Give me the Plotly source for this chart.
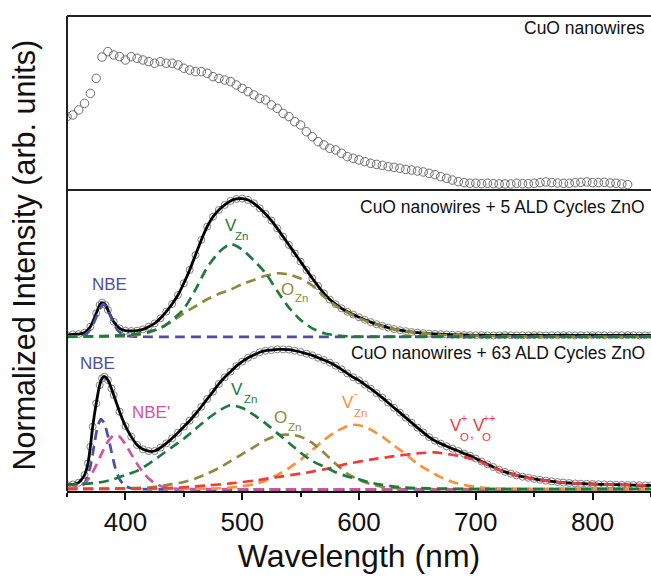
import plotly.graph_objects as go

# ---------------- data ----------------
# top panel: CuO nanowires
wl_top = list(range(350, 831, 5))
pl_top = [0.519, 0.531, 0.568, 0.617, 0.691, 0.802, 0.960, 1.000, 0.975, 0.963,
          0.938, 0.963, 0.951, 0.938, 0.926, 0.914, 0.926, 0.914, 0.914, 0.901,
          0.877, 0.864, 0.852, 0.852, 0.840, 0.815, 0.802, 0.790, 0.778, 0.753,
          0.728, 0.704, 0.679, 0.654, 0.642, 0.605, 0.580, 0.543, 0.519, 0.481,
          0.457, 0.407, 0.370, 0.333, 0.309, 0.284, 0.272, 0.247, 0.222, 0.210,
          0.198, 0.185, 0.173, 0.165, 0.158, 0.148, 0.143, 0.136, 0.128, 0.123,
          0.116, 0.109, 0.099, 0.089, 0.074, 0.062, 0.049, 0.037, 0.030, 0.025,
          0.025, 0.022, 0.025, 0.022, 0.020, 0.020, 0.020, 0.025, 0.022, 0.022,
          0.025, 0.030, 0.035, 0.030, 0.027, 0.025, 0.025, 0.030, 0.032, 0.035,
          0.030, 0.030, 0.032, 0.027, 0.025, 0.020, 0.015]

# middle panel: CuO nanowires + 5 ALD cycles ZnO
wl_mid = [350, 355, 360, 365, 370, 375, 378, 380, 383, 385, 390, 395] + list(range(400, 851, 5))
pl_mid = [0.012, 0.017, 0.019, 0.029, 0.072, 0.169, 0.229, 0.246, 0.229, 0.193, 0.108, 0.060,
          0.043, 0.041, 0.043, 0.053, 0.072, 0.096, 0.133, 0.181, 0.236, 0.301,
          0.386, 0.482, 0.590, 0.699, 0.795, 0.867, 0.916, 0.952, 0.981, 0.995,
          0.998, 0.988, 0.964, 0.928, 0.887, 0.839, 0.783, 0.723, 0.663, 0.602,
          0.542, 0.482, 0.422, 0.366, 0.313, 0.268, 0.235, 0.205, 0.180, 0.160,
          0.140, 0.122, 0.105, 0.090, 0.078, 0.066, 0.055, 0.047, 0.040, 0.034,
          0.029, 0.025, 0.022, 0.020, 0.018, 0.016, 0.014, 0.013, 0.012, 0.011,
          0.010, 0.011, 0.010, 0.009, 0.010, 0.011, 0.010, 0.009, 0.010, 0.010,
          0.011, 0.010, 0.009, 0.010, 0.010, 0.011, 0.010, 0.009, 0.010, 0.010,
          0.011, 0.010, 0.010, 0.009, 0.010, 0.010, 0.011, 0.010, 0.009, 0.010, 0.010]

nbe_mid_x = [350, 360, 365, 370, 373, 376, 378, 381, 384, 387, 390, 393, 396, 400, 405, 410, 850]
nbe_mid_y = [0, 0.002, 0.012, 0.05, 0.10, 0.16, 0.20, 0.235, 0.21, 0.155, 0.095, 0.05, 0.025, 0.008, 0.002, 0, 0]
vzn_mid_x = [350, 380, 400, 410, 420, 430, 440, 450, 460, 470, 480, 490, 500, 510, 520,
             530, 540, 550, 560, 570, 580, 590, 600, 620, 850]
vzn_mid_y = [0, 0.004, 0.012, 0.02, 0.035, 0.06, 0.12, 0.20, 0.34, 0.50, 0.61, 0.67, 0.63,
             0.55, 0.46, 0.33, 0.21, 0.12, 0.06, 0.025, 0.01, 0.003, 0, 0, 0]
ozn_mid_x = [350, 400, 410, 420, 430, 440, 450, 460, 470, 480, 490, 500, 510, 520, 530, 540,
             550, 560, 570, 580, 590, 600, 610, 620, 630, 640, 650, 670, 700, 750, 850]
ozn_mid_y = [0, 0.003, 0.012, 0.03, 0.065, 0.11, 0.17, 0.22, 0.27, 0.31, 0.34, 0.38, 0.41,
             0.44, 0.458, 0.45, 0.42, 0.37, 0.29, 0.225, 0.175, 0.135, 0.10, 0.075, 0.055,
             0.04, 0.028, 0.014, 0.006, 0.002, 0]

# bottom panel: CuO nanowires + 63 ALD cycles ZnO
wl_bot = [350, 355, 360, 365, 368, 370, 372, 375, 378, 380, 382, 385, 388, 390] + list(range(395, 851, 5))
pl_bot = [0.029, 0.033, 0.045, 0.100, 0.184, 0.303, 0.446, 0.613, 0.744, 0.792, 0.804, 0.780,
          0.720, 0.673,
          0.554, 0.451, 0.375, 0.315, 0.284, 0.272, 0.272, 0.296, 0.327, 0.363,
          0.403, 0.446, 0.489, 0.537, 0.589, 0.644, 0.697, 0.752, 0.800, 0.840,
          0.880, 0.912, 0.940, 0.959, 0.979, 0.990, 0.995, 1.000, 1.000, 0.998,
          0.990, 0.981, 0.969, 0.957, 0.940, 0.924, 0.905, 0.883, 0.857, 0.828,
          0.800, 0.778, 0.748, 0.718, 0.686, 0.654, 0.618, 0.582, 0.547, 0.511,
          0.475, 0.439, 0.405, 0.372, 0.346, 0.325, 0.306, 0.289, 0.272, 0.253,
          0.239, 0.218, 0.197, 0.177, 0.157, 0.138, 0.123, 0.110, 0.098, 0.088,
          0.080, 0.072, 0.066, 0.060, 0.055, 0.050, 0.046, 0.043, 0.040, 0.038,
          0.037, 0.036, 0.034, 0.033, 0.032, 0.031, 0.030, 0.029, 0.028, 0.027,
          0.026, 0.026]

nbe_bot_x = [350, 360, 365, 370, 373, 376, 379, 382, 385, 388, 391, 395, 400, 405, 410, 850]
nbe_bot_y = [0, 0.01, 0.04, 0.16, 0.30, 0.44, 0.50, 0.47, 0.38, 0.27, 0.16, 0.07, 0.02, 0.005, 0, 0]
nbe2_bot_x = [350, 360, 365, 370, 375, 380, 385, 390, 395, 400, 405, 410, 415, 420, 425,
              430, 435, 440, 450, 850]
nbe2_bot_y = [0, 0.02, 0.04, 0.09, 0.17, 0.26, 0.34, 0.385, 0.375, 0.32, 0.25, 0.18, 0.12,
              0.075, 0.042, 0.022, 0.01, 0.004, 0, 0]
vzn_bot_x = [350, 360, 370, 380, 390, 400, 410, 420, 430, 440, 450, 460, 470, 480, 490, 500,
             510, 520, 530, 540, 550, 560, 570, 580, 590, 600, 610, 620, 630, 640, 660, 680,
             700, 850]
vzn_bot_y = [0.03, 0.035, 0.04, 0.05, 0.07, 0.10, 0.13, 0.18, 0.24, 0.30, 0.36, 0.43, 0.50,
             0.56, 0.60, 0.58, 0.53, 0.47, 0.40, 0.33, 0.26, 0.20, 0.16, 0.12, 0.09, 0.07,
             0.045, 0.03, 0.017, 0.01, 0.004, 0.002, 0, 0]
ozn_bot_x = [350, 420, 430, 440, 450, 460, 470, 480, 490, 500, 510, 520, 530, 537, 545, 550,
             560, 570, 580, 590, 600, 610, 620, 630, 640, 660, 850]
ozn_bot_y = [0, 0.01, 0.02, 0.035, 0.05, 0.075, 0.11, 0.15, 0.20, 0.25, 0.30, 0.35, 0.385,
             0.39, 0.385, 0.375, 0.33, 0.26, 0.18, 0.11, 0.065, 0.035, 0.016, 0.008, 0.004, 0, 0]
vznm_bot_x = [350, 480, 500, 510, 520, 530, 540, 550, 560, 570, 580, 590, 597, 605, 610, 620,
              630, 640, 650, 660, 670, 680, 690, 700, 710, 720, 740, 850]
vznm_bot_y = [0, 0.005, 0.02, 0.035, 0.06, 0.10, 0.15, 0.21, 0.28, 0.35, 0.41, 0.45, 0.46,
              0.445, 0.425, 0.375, 0.31, 0.25, 0.18, 0.13, 0.085, 0.05, 0.03, 0.015, 0.007,
              0.003, 0, 0]
vo_bot_x = [350, 430, 450, 470, 490, 510, 530, 550, 570, 590, 610, 630, 650, 665, 680, 690,
            700, 710, 720, 730, 740, 750, 760, 770, 780, 790, 800, 820, 840, 850]
vo_bot_y = [0, 0.005, 0.012, 0.025, 0.04, 0.06, 0.085, 0.11, 0.14, 0.18, 0.21, 0.235, 0.255,
            0.262, 0.245, 0.228, 0.208, 0.172, 0.136, 0.108, 0.087, 0.071, 0.06, 0.05, 0.043,
            0.038, 0.035, 0.031, 0.027, 0.026]

# ---------------- styling ----------------
FONT = "Liberation Sans, Arial, Helvetica, sans-serif"
C_NBE = "#4f4f9f"
C_VZN = "#1c7a3c"
C_OZN = "#8c8a3c"
C_NBE2 = "#d353a3"
C_VZNM = "#f7923f"
C_VO = "#ef3b3b"

H_TOP = (0.6337, 1.0)
H_MID = (0.3179, 0.6337)
H_BOT = (0.0, 0.3179)

fig = go.Figure()


def data_trace(x, y, ax, size, color):
    fig.add_trace(go.Scatter(x=x, y=y, yaxis=ax, mode="markers",
                             marker=dict(symbol="circle-open", size=size, color=color,
                                         line=dict(width=1, color=color)),
                             showlegend=False, hoverinfo="skip"))


def fit_trace(x, y, ax):
    fig.add_trace(go.Scatter(x=x, y=y, yaxis=ax, mode="lines",
                             line=dict(color="#000000", width=2.8, shape="spline", smoothing=0.6),
                             showlegend=False, hoverinfo="skip"))


def comp_trace(x, y, ax, color):
    fig.add_trace(go.Scatter(x=x, y=y, yaxis=ax, mode="lines",
                             line=dict(color=color, width=2.7, dash="10px,6px",
                                       shape="spline", smoothing=0.6),
                             showlegend=False, hoverinfo="skip"))


# top
data_trace(wl_top, pl_top, "y", 8.5, "#6b6b6b")
# middle
data_trace(wl_mid, pl_mid, "y2", 7, "#808080")
fit_trace(wl_mid, pl_mid, "y2")
comp_trace(nbe_mid_x, nbe_mid_y, "y2", C_NBE)
comp_trace(ozn_mid_x, ozn_mid_y, "y2", C_OZN)
comp_trace(vzn_mid_x, vzn_mid_y, "y2", C_VZN)
# bottom
data_trace(wl_bot, pl_bot, "y3", 7, "#808080")
fit_trace(wl_bot, pl_bot, "y3")
comp_trace(nbe_bot_x, nbe_bot_y, "y3", C_NBE)
comp_trace(nbe2_bot_x, nbe2_bot_y, "y3", C_NBE2)
comp_trace(vznm_bot_x, vznm_bot_y, "y3", C_VZNM)
comp_trace(ozn_bot_x, ozn_bot_y, "y3", C_OZN)
comp_trace(vo_bot_x, vo_bot_y, "y3", C_VO)
comp_trace(vzn_bot_x, vzn_bot_y, "y3", C_VZN)

hidden_y = dict(showticklabels=False, ticks="", showgrid=False, zeroline=False,
                showline=False, anchor="x", fixedrange=True)

fig.update_layout(
    width=651, height=580,
    margin=dict(l=67, r=0, t=16, b=89),
    paper_bgcolor="white", plot_bgcolor="white",
    font=dict(family=FONT, color="#111111"),
    xaxis=dict(range=[350, 850], domain=[0, 1], anchor="y3",
               showline=True, linecolor="#111111", linewidth=2,
               ticks="outside", ticklen=7, tickwidth=1.5, tickcolor="#111111",
               tick0=0, dtick=100, tickfont=dict(size=26, family=FONT, color="#111111"),
               minor=dict(ticks="outside", ticklen=4, tickwidth=1.5, tickcolor="#111111",
                          tick0=0, dtick=50),
               showgrid=False, zeroline=False,
               title=dict(text="Wavelength (nm)", font=dict(size=32, family=FONT, color="#111111"),
                          standoff=8)),
    yaxis=dict(domain=list(H_TOP), range=[-0.0247, 1.264], **hidden_y),
    yaxis2=dict(domain=list(H_MID), range=[-0.024, 1.060], **hidden_y),
    yaxis3=dict(domain=list(H_BOT), range=[-0.0143, 1.067], **hidden_y),
)

# frame lines
line_style = dict(color="#222222", width=2)
fig.add_shape(type="line", xref="paper", yref="paper", x0=0, x1=0, y0=0, y1=1, line=line_style)
fig.add_shape(type="line", xref="paper", yref="paper", x0=0, x1=1, y0=1, y1=1, line=line_style)
fig.add_shape(type="line", xref="paper", yref="paper", x0=0, x1=1, y0=H_TOP[0], y1=H_TOP[0],
              line=line_style)

# y title
fig.add_annotation(text="Normalized Intensity (arb. units)", xref="paper", yref="paper",
                   x=-0.0727, y=0.497, xanchor="center", yanchor="middle", textangle=-90,
                   showarrow=False, font=dict(size=30.5, family=FONT, color="#111111"))

# panel titles
for txt, yp in [("CuO nanowires", 0.9747),
                ("CuO nanowires + 5 ALD Cycles ZnO", 0.5979),
                ("CuO nanowires + 63 ALD Cycles ZnO", 0.2905)]:
    fig.add_annotation(text=txt, xref="paper", yref="paper", x=0.993, y=yp,
                       xanchor="right", yanchor="middle", showarrow=False,
                       font=dict(size=17.5, family=FONT, color="#111111"))

# component labels: (text, x in nm, y in paper, colour, size)
labels = [
    ("NBE", 386.5, 0.4347, C_NBE, 17),
    ("V", 490.2, 0.5579, C_VZN, 17), ("Zn", 499.0, 0.5368, C_VZN, 11.5),
    ("O", 539.0, 0.4232, C_OZN, 17), ("Zn", 551.0, 0.4057, C_OZN, 11.5),
    ("NBE", 375.8, 0.2674, C_NBE, 17),
    ("NBE'", 421.6, 0.1663, C_NBE2, 17),
    ("V", 495.8, 0.2137, C_VZN, 17), ("Zn", 507.5, 0.1930, C_VZN, 11.5),
    ("O", 533.0, 0.1547, C_OZN, 17), ("Zn", 545.0, 0.1354, C_OZN, 11.5),
    ("V", 590.4, 0.1863, C_VZNM, 17), ("-", 597.5, 0.2063, C_VZNM, 11.5),
    ("Zn", 601.5, 0.1642, C_VZNM, 11.5),
    ("V", 683.0, 0.1379, C_VO, 17), ("+", 690.0, 0.1530, C_VO, 10.5),
    ("O", 690.0, 0.1137, C_VO, 11.5), (",", 696.5, 0.1230, C_VO, 14),
    ("V", 702.5, 0.1379, C_VO, 17), ("++", 711.0, 0.1530, C_VO, 10.5),
    ("O", 709.5, 0.1137, C_VO, 11.5),
]
for txt, xn, yp, col, sz in labels:
    fig.add_annotation(text=txt, xref="x", yref="paper", x=xn, y=yp,
                       xanchor="center", yanchor="middle", showarrow=False,
                       font=dict(size=sz, family=FONT, color=col))

fig.write_html("out.html", config={"displayModeBar": False},
               post_script="document.body.style.margin='0';document.body.style.overflow='hidden';")
